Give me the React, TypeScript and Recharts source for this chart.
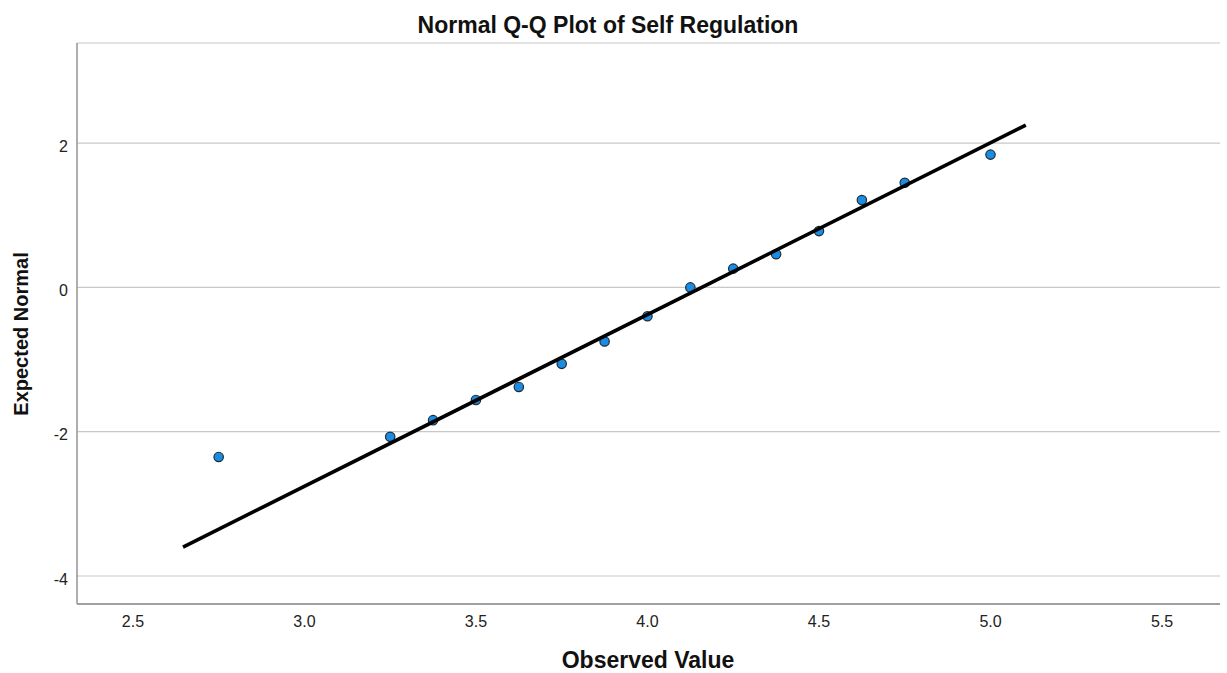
import React from 'react'
import {
  ScatterChart,
  Scatter,
  XAxis,
  YAxis,
  CartesianGrid,
  Label
} from 'recharts'

// observed values and their expected normal quantiles
const observed = [2.75, 3.25, 3.375, 3.5, 3.625, 3.75, 3.875, 4.0, 4.125, 4.25, 4.375, 4.5, 4.625, 4.75, 5.0]
const expected = [-2.35, -2.07, -1.84, -1.56, -1.38, -1.06, -0.75, -0.4, 0.0, 0.26, 0.46, 0.78, 1.21, 1.45, 1.84]

// reference line end points
const lineX = [2.646, 5.103]
const lineY = [-3.6, 2.25]

const xTicks = [2.5, 3.0, 3.5, 4.0, 4.5, 5.0, 5.5]
const yTicks = [-4, -2, 0, 2]

const points = observed.map((x, i) => ({ x, y: expected[i] }))
const linePoints = lineX.map((x, i) => ({ x, y: lineY[i] }))

const font = '"Liberation Sans", Arial, sans-serif'

const Dot = (props: any) => (
  <circle cx={props.cx} cy={props.cy} r={4.7} fill="#1a8ce3" stroke="#1f2a33" strokeWidth={1.2} />
)

export default function App() {
  return (
    <div style={{ position: 'absolute', left: 0, top: 0, background: '#fff' }}>
      <ScatterChart
        width={1227}
        height={673}
        margin={{ top: 43, right: 7, bottom: 0, left: 0 }}
        style={{ fontFamily: font }}
      >
        <CartesianGrid vertical={false} stroke="#c8c8c8" strokeWidth={1.2} />
        <XAxis
          type="number"
          dataKey="x"
          domain={[2.337, 5.669]}
          ticks={xTicks}
          tickFormatter={(v: number) => v.toFixed(1)}
          allowDataOverflow
          height={69}
          tickLine={false}
          tickSize={0}
          tickMargin={12}
          axisLine={{ stroke: '#8a8a8a', strokeWidth: 1.6 }}
          tick={{ fontSize: 16, fill: '#222' }}
        >
          <Label
            content={() => (
              <text x={648} y={668} textAnchor="middle" fontSize={23} fontWeight="bold" fill="#111" fontFamily={font}>
                Observed Value
              </text>
            )}
          />
        </XAxis>
        <YAxis
          type="number"
          dataKey="y"
          domain={[-4.388, 3.387]}
          ticks={yTicks}
          allowDataOverflow
          width={77}
          tickLine={false}
          tickSize={0}
          tickMargin={9}
          axisLine={{ stroke: '#9a9a9a', strokeWidth: 1.6 }}
          tick={{ fontSize: 16, fill: '#222', dy: 3 }}
        >
          <Label
            content={() => (
              <g>
                <text x={608} y={33} textAnchor="middle" fontSize={23} fontWeight="bold" fill="#111" fontFamily={font}>
                  Normal Q-Q Plot of Self Regulation
                </text>
                <text
                  x={28}
                  y={334}
                  textAnchor="middle"
                  fontSize={20}
                  fontWeight="bold"
                  fill="#111"
                  fontFamily={font}
                  transform="rotate(-90, 28, 334)"
                >
                  Expected Normal
                </text>
              </g>
            )}
          />
        </YAxis>
        <Scatter data={points} shape={Dot} isAnimationActive={false} />
        <Scatter
          data={linePoints}
          line={{ stroke: '#000', strokeWidth: 3.6 }}
          shape={() => <g />}
          isAnimationActive={false}
        />
      </ScatterChart>
    </div>
  )
}
